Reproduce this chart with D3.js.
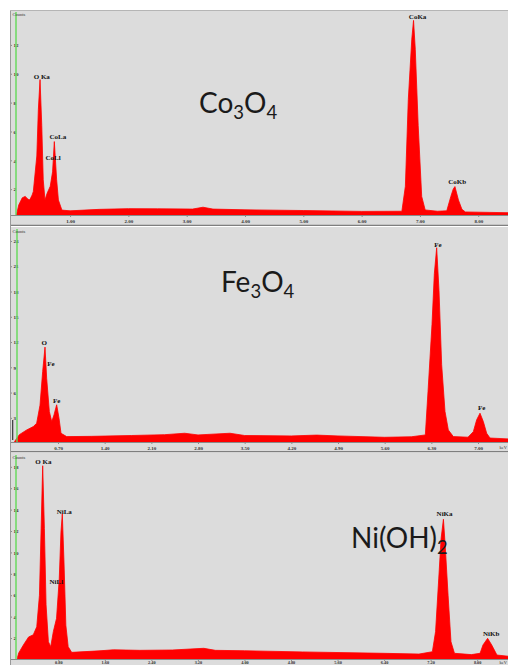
<!DOCTYPE html>
<html>
<head>
<meta charset="utf-8">
<script src="https://cdn.jsdelivr.net/npm/d3@7"></script>
<style>
body { margin: 0; background: #fff; }
svg { display: block; }
.axis text { font-family: 'Liberation Serif', serif; font-weight: bold; fill: #333; }
.axis line, .axis path { stroke: #8a8a8a; }
.peak { font-family: 'Liberation Serif', serif; font-weight: bold; font-size: 7px; fill: #111; text-anchor: middle; }
.title { font-family: Lato, sans-serif; fill: #1a1a1a; }
.counts { font-family: 'Liberation Serif', serif; font-size: 4.5px; fill: #333; }
</style>
</head>
<body>
<svg width="508" height="665"></svg>
<script>
// ---- data: [energy keV, counts] ----

// Co3O4 (counts in k)
var coSpectrum = [
    [0.08, 0.2], [0.12, 0.9], [0.18, 1.4], [0.23, 1.5], [0.28, 1.3], [0.31, 1.26],
    [0.35, 1.6], [0.37, 1.84], [0.43, 4.3], [0.456, 7.5], [0.485, 9.6], [0.515, 6.4],
    [0.54, 2.65], [0.57, 1.25], [0.605, 1.7], [0.66, 2.2], [0.70, 3.2], [0.73, 5.3],
    [0.77, 2.65], [0.80, 1.25], [0.86, 0.55], [1.0, 0.5], [1.5, 0.6], [2.0, 0.65],
    [2.5, 0.64], [3.1, 0.62], [3.28, 0.75], [3.45, 0.62], [4.0, 0.57], [5.0, 0.52],
    [6.0, 0.46], [6.69, 0.47], [6.75, 2.2], [6.80, 8.2], [6.86, 12.4], [6.89, 13.7],
    [6.92, 11.7], [6.97, 6.4], [7.03, 1.5], [7.09, 0.56], [7.3, 0.47], [7.46, 0.5],
    [7.53, 1.5], [7.57, 2.0], [7.60, 2.18], [7.66, 1.25], [7.72, 0.6], [7.78, 0.42],
    [8.2, 0.39], [8.51, 0.37]
];
var coXTicks = [1, 2, 3, 4, 5, 6, 7, 8];
var coYTicks = [2, 4, 6, 8, 10, 12];
var coXRange = [-0.03, 8.51];
var coYRange = [0.21, 14.42];
var coPeaks = [
    { name: 'O Ka', kev: 0.515, counts: 9.66 },
    { name: 'CoLa', kev: 0.79, counts: 5.48 },
    { name: 'CoLl', kev: 0.71, counts: 4.01 },
    { name: 'CoKa', kev: 6.96, counts: 13.78 },
    { name: 'CoKb', kev: 7.64, counts: 2.34 }
];

// Fe3O4 (counts in hundreds)
var feSpectrum = [
    [0.05, 0.2], [0.12, 1.0], [0.23, 1.56], [0.33, 1.96], [0.38, 2.36], [0.43, 4.5],
    [0.47, 8.5], [0.505, 11.4], [0.53, 7.7], [0.57, 3.75], [0.606, 2.55], [0.64, 3.35],
    [0.68, 4.55], [0.715, 2.96], [0.745, 1.17], [0.83, 0.77], [1.2, 0.8], [1.8, 0.9],
    [2.3, 1.0], [2.6, 1.17], [2.8, 0.97], [3.28, 1.17], [3.5, 0.9], [4.2, 0.85],
    [4.58, 0.95], [4.9, 0.85], [5.6, 0.69], [6.0, 0.75], [6.21, 0.97], [6.25, 6.1],
    [6.31, 14.1], [6.345, 20.1], [6.38, 23.2], [6.415, 18.1], [6.455, 9.3], [6.505, 3.75],
    [6.555, 1.56], [6.63, 0.77], [6.85, 0.7], [6.93, 1.36], [6.98, 2.76], [7.03, 3.55],
    [7.08, 2.55], [7.13, 1.17], [7.18, 0.6], [7.45, 0.5]
];
var feXTicks = [0.7, 1.4, 2.1, 2.8, 3.5, 4.2, 4.9, 5.6, 6.3, 7.0];
var feYTicks = [3, 6, 9, 12, 15, 18, 21, 24];
var feXRange = [-0.02, 7.45];
var feYRange = [0.13, 25.66];
var fePeaks = [
    { name: 'O', kev: 0.495, counts: 11.65 },
    { name: 'Fe', kev: 0.595, counts: 9.2 },
    { name: 'Fe', kev: 0.68, counts: 4.73 },
    { name: 'Fe', kev: 6.40, counts: 23.34 },
    { name: 'Fe', kev: 7.055, counts: 3.89 }
];

// Ni(OH)2 (counts in hundreds)
var niSpectrum = [
    [0.10, 0.2], [0.12, 0.6], [0.2, 1.35], [0.29, 2.1], [0.37, 2.3], [0.43, 3.05],
    [0.476, 6.0], [0.505, 12.25], [0.532, 18.1], [0.561, 12.25], [0.59, 5.1], [0.63, 1.65],
    [0.67, 1.19], [0.715, 2.6], [0.77, 3.84], [0.817, 7.58], [0.846, 11.9], [0.869, 13.6],
    [0.898, 9.1], [0.93, 3.2], [0.97, 1.19], [1.03, 0.66], [1.5, 0.8], [1.75, 0.9],
    [2.2, 0.85], [2.76, 0.88], [3.3, 1.04], [3.5, 0.85], [4.0, 0.81], [5.0, 0.7],
    [6.4, 0.57], [7.0, 0.5], [7.23, 0.72], [7.285, 2.6], [7.34, 7.6], [7.38, 11.3],
    [7.42, 13.1], [7.45, 10.7], [7.50, 6.0], [7.55, 1.65], [7.61, 0.57], [7.9, 0.45],
    [8.05, 0.57], [8.10, 1.35], [8.18, 1.97], [8.25, 1.35], [8.34, 0.41], [8.53, 0.3]
];
var niXTicks = [0.8, 1.6, 2.4, 3.2, 4.0, 4.8, 5.6, 6.4, 7.2, 8.0];
var niYTicks = [2, 4, 6, 8, 10, 12, 14, 16, 18];
var niXRange = [-0.03, 8.53];
var niYRange = [0.04, 19.29];
var niPeaks = [
    { name: 'O Ka', kev: 0.544, counts: 18.3 },
    { name: 'NiLa', kev: 0.903, counts: 13.6 },
    { name: 'NiLl', kev: 0.766, counts: 7.09 },
    { name: 'NiKa', kev: 7.44, counts: 13.36 },
    { name: 'NiKb', kev: 8.24, counts: 2.23 }
];

var svg = d3.select('svg');
var width = 508;
var left = 10;

// panel frames (screen layout) tied to the data above
var panels = [
    { id: 'co', spectrum: coSpectrum, xTicks: coXTicks, yTicks: coYTicks, xRange: coXRange, yRange: coYRange,
      peaks: coPeaks, top: 10, axisY: 215, bottom: 226, greenX: 16, keV: false, labelPad: 2,
      title: [['Co', 0], ['3', 1], ['O', 0], ['4', 1]], titleX: 199, titleY: 113 },
    { id: 'fe', spectrum: feSpectrum, xTicks: feXTicks, yTicks: feYTicks, xRange: feXRange, yRange: feYRange,
      peaks: fePeaks, top: 227, axisY: 442, bottom: 452, greenX: 17, keV: true, labelPad: 2,
      title: [['Fe', 0], ['3', 1], ['O', 0], ['4', 1]], titleX: 221, titleY: 292 },
    { id: 'ni', spectrum: niSpectrum, xTicks: niXTicks, yTicks: niYTicks, xRange: niXRange, yRange: niYRange,
      peaks: niPeaks, top: 453, axisY: 659, bottom: 672, greenX: 16, keV: true, labelPad: 0.3,
      title: [['Ni(OH)', 0], ['2', 1]], titleX: 351, titleY: 548 }
];

var defs = svg.append('defs');

panels.forEach(function (p) {
    var x = d3.scaleLinear().domain(p.xRange).range([left, width]);
    var y = d3.scaleLinear().domain(p.yRange).range([p.axisY, p.top]);

    var g = svg.append('g').attr('class', 'panel-' + p.id);

    // grey window background
    g.append('rect')
        .attr('x', left).attr('y', p.top)
        .attr('width', width - left).attr('height', p.bottom - p.top)
        .attr('fill', '#dcdcdc');

    defs.append('clipPath').attr('id', 'clip-' + p.id)
        .append('rect')
        .attr('x', left).attr('y', p.top)
        .attr('width', width - left).attr('height', p.axisY - p.top);

    // spectrum
    var area = d3.area()
        .x(function (d) { return x(d[0]); })
        .y0(p.axisY)
        .y1(function (d) { return y(d[1]); });

    g.append('path')
        .datum(p.spectrum)
        .attr('clip-path', 'url(#clip-' + p.id + ')')
        .attr('fill', '#ff0000')
        .attr('stroke', '#ff0000')
        .attr('stroke-width', 0.8)
        .attr('d', area);

    // x axis
    var xAxis = d3.axisBottom(x)
        .tickValues(p.xTicks)
        .tickSize(2)
        .tickPadding(p.labelPad)
        .tickSizeOuter(0)
        .tickFormat(d3.format('.2f'));
    var xg = g.append('g')
        .attr('class', 'axis')
        .attr('transform', 'translate(0,' + p.axisY + ')')
        .call(xAxis);
    xg.selectAll('text').attr('font-size', p.labelPad < 1 ? 4.3 : 5);
    xg.select('.domain').attr('stroke', '#7a7a7a').attr('stroke-width', 1);

    if (p.keV) {
        g.append('text')
            .attr('class', 'counts')
            .attr('x', 507).attr('y', p.axisY + 4.5 + p.labelPad)
            .attr('text-anchor', 'end')
            .attr('font-size', 4.3)
            .text('keV');
    }

    // y axis: short ticks on the window edge, labels beside
    var yAxis = d3.axisRight(y)
        .tickValues(p.yTicks)
        .tickSize(2)
        .tickPadding(1.5)
        .tickFormat(function (d) { return d; });
    var yg = g.append('g')
        .attr('class', 'axis')
        .attr('transform', 'translate(' + left + ',0)')
        .call(yAxis);
    yg.select('.domain').remove();
    yg.selectAll('text').attr('font-size', 5).attr('dy', '0.35em');

    // green y axis line
    g.append('line')
        .attr('x1', p.greenX).attr('x2', p.greenX)
        .attr('y1', p.top + 2).attr('y2', p.axisY)
        .attr('stroke', '#62d957')
        .attr('stroke-width', 1.4);

    g.append('text')
        .attr('class', 'counts')
        .attr('x', left + 2.5).attr('y', p.top + 5.5)
        .text('Counts');

    // peak labels
    g.selectAll('.peak')
        .data(p.peaks)
        .enter()
        .append('text')
        .attr('class', 'peak')
        .attr('x', function (d) { return x(d.kev); })
        .attr('y', function (d) { return y(d.counts); })
        .text(function (d) { return d.name; });

    // compound name
    var t = g.append('text')
        .attr('class', 'title')
        .attr('x', p.titleX)
        .attr('y', p.titleY);
    var shift = 0;
    p.title.forEach(function (part) {
        var dy = part[1] ? 6 : 0;
        t.append('tspan')
            .attr('dy', dy - shift)
            .attr('font-size', part[1] ? 18.5 : 28)
            .text(part[0]);
        shift = dy;
    });

    // window separator
    g.append('line')
        .attr('x1', left).attr('x2', width)
        .attr('y1', p.bottom - 0.5).attr('y2', p.bottom - 0.5)
        .attr('stroke', '#555')
        .attr('stroke-width', 1.2);
    g.append('rect')
        .attr('x', left + 1).attr('y', p.axisY + 9.5)
        .attr('width', width - left - 1).attr('height', 1)
        .attr('fill', '#a9a9a9');
});

// window left / top edges
svg.append('line')
    .attr('x1', left + 0.5).attr('x2', left + 0.5)
    .attr('y1', 10).attr('y2', 665)
    .attr('stroke', '#9a9a9a');
svg.append('line')
    .attr('x1', left).attr('x2', width)
    .attr('y1', 10.5).attr('y2', 10.5)
    .attr('stroke', '#b5b5b5');

// little dark marker on the Fe3O4 window edge
svg.append('rect')
    .attr('x', 12).attr('y', 420)
    .attr('width', 1.3).attr('height', 20)
    .attr('fill', '#444');
</script>
</body>
</html>
